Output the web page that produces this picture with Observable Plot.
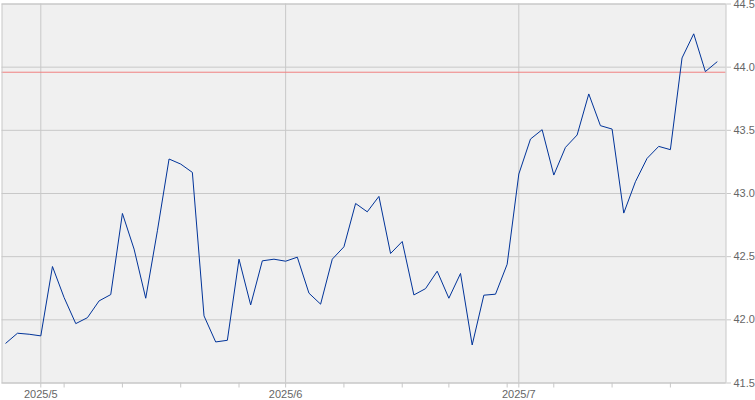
<!DOCTYPE html>
<html>
<head>
<meta charset="utf-8">
<script src="https://cdn.jsdelivr.net/npm/d3@7"></script>
<script src="https://cdn.jsdelivr.net/npm/@observablehq/plot@0.6"></script>
<style>
  html, body { margin: 0; padding: 0; background: #ffffff; }
</style>
</head>
<body>
<div id="chart"></div>
<script>
// Trading days shown on the chart
const dates = [
  "2025-04-28","2025-04-29","2025-04-30",
  "2025-05-01","2025-05-02","2025-05-05","2025-05-06","2025-05-07","2025-05-08","2025-05-09",
  "2025-05-12","2025-05-13","2025-05-14","2025-05-15","2025-05-16",
  "2025-05-19","2025-05-20","2025-05-21","2025-05-22","2025-05-23",
  "2025-05-27","2025-05-28","2025-05-29","2025-05-30",
  "2025-06-02","2025-06-03","2025-06-04","2025-06-05","2025-06-06",
  "2025-06-09","2025-06-10","2025-06-11","2025-06-12","2025-06-13",
  "2025-06-16","2025-06-17","2025-06-18","2025-06-20",
  "2025-06-23","2025-06-24","2025-06-25","2025-06-26","2025-06-27",
  "2025-06-30",
  "2025-07-01","2025-07-02","2025-07-03",
  "2025-07-07","2025-07-08","2025-07-09","2025-07-10","2025-07-11",
  "2025-07-14","2025-07-15","2025-07-16","2025-07-17","2025-07-18",
  "2025-07-21","2025-07-22","2025-07-23","2025-07-24","2025-07-25"
];
// Closing values
const values = [
  41.815, 41.894, 41.886,
  41.873, 42.422, 42.176, 41.970, 42.017, 42.150, 42.200,
  42.842, 42.560, 42.171, 42.705, 43.273,
  43.233, 43.167, 42.031, 41.825, 41.838,
  42.480, 42.118, 42.467, 42.480,
  42.464, 42.496, 42.211, 42.124, 42.480,
  42.578, 42.921, 42.855, 42.977, 42.525,
  42.620, 42.197, 42.247, 42.385,
  42.171, 42.367, 41.801, 42.195, 42.203,
  42.440,
  43.154, 43.431, 43.505,
  43.146, 43.365, 43.463, 43.788, 43.537,
  43.510, 42.845, 43.093, 43.278, 43.373,
  43.347, 44.073, 44.264, 43.965, 44.042
];
const refValue = 43.96;
const yTicks = [41.5, 42.0, 42.5, 43.0, 43.5, 44.0, 44.5];
const yTickLabels = ["41.5", "42.0", "42.5", "43.0", "43.5", "44.0", "44.5"];

const rows = dates.map((d, i) => ({i, date: new Date(d + "T00:00:00Z"), v: values[i]}));

// week-start and month-start ticks (trading-day index)
const weekTicks = [];
const monthTicks = [];
const monthLabel = new Map();
for (let i = 1; i < rows.length; i++) {
  const a = rows[i - 1].date, b = rows[i].date;
  const newMonth = a.getUTCMonth() !== b.getUTCMonth();
  const newWeek = b.getUTCDay() < a.getUTCDay() || (b - a) > 6 * 864e5;
  if (newMonth) {
    monthTicks.push(i);
    monthLabel.set(i, `${b.getUTCFullYear()}/${b.getUTCMonth() + 1}`);
  }
  if (newMonth || newWeek) weekTicks.push(i);
}

const gridColor = "#c8c8c8";
const textColor = "#666666";

const chart = Plot.plot({
  width: 755,
  height: 400,
  marginLeft: 1.5,
  marginRight: 29.5,
  marginTop: 3.5,
  marginBottom: 17.5,
  style: {background: "#ffffff", fontFamily: "'Liberation Sans', Arial, sans-serif", fontSize: "11px"},
  x: {domain: [-0.328, 61.77], axis: null},
  y: {domain: [41.5, 44.5], axis: null},
  marks: [
    Plot.frame({fill: "#f0f0f0", stroke: "none"}),
    Plot.gridY(yTicks, {stroke: gridColor, strokeOpacity: 1}),
    Plot.gridX(monthTicks, {stroke: gridColor, strokeOpacity: 1}),
    Plot.ruleY([refValue], {stroke: "#f08080", strokeWidth: 1}),
    Plot.line(rows, {x: "i", y: "v", stroke: "#003399", strokeWidth: 1}),
    Plot.frame({stroke: gridColor, fill: "none"}),
    Plot.axisX({
      ticks: weekTicks,
      tickSize: 5,
      tickPadding: 2.5,
      tickFormat: (d) => monthLabel.get(d) ?? "",
      stroke: gridColor,
      fill: textColor,
      fontSize: 11,
      label: null
    }),
    Plot.axisY({
      anchor: "right",
      ticks: yTicks,
      tickSize: 4.5,
      tickPadding: 3,
      tickFormat: (d) => yTickLabels[yTicks.indexOf(d)],
      stroke: gridColor,
      fill: textColor,
      fontSize: 11,
      label: null
    })
  ]
});
document.getElementById("chart").appendChild(chart);
</script>
</body>
</html>
